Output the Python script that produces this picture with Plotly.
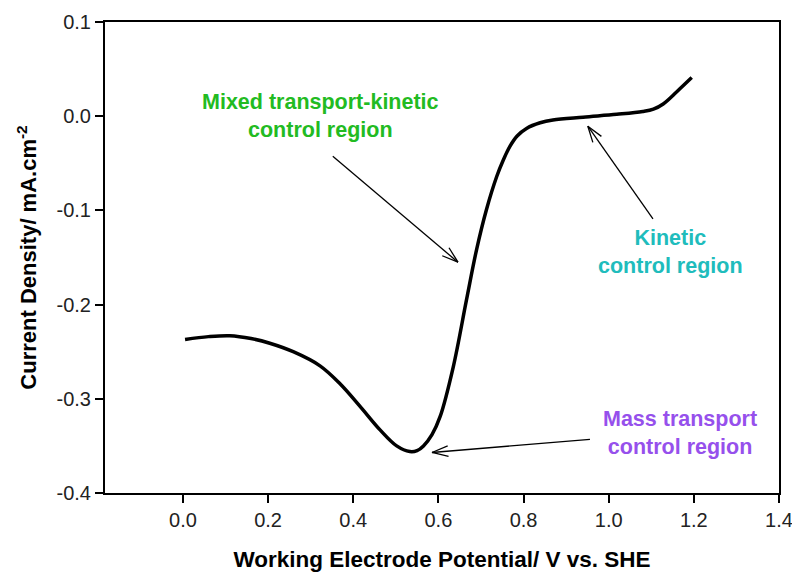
import math
import plotly.graph_objects as go

# ---- data ----
potential = [0.005, 0.06, 0.11, 0.16, 0.204, 0.259, 0.322, 0.369, 0.416, 0.463,
             0.502, 0.533, 0.55, 0.565, 0.585, 0.604, 0.635, 0.666, 0.690, 0.713, 0.737,
             0.752, 0.768, 0.785, 0.807, 0.839, 0.869, 0.94, 1.019, 1.08, 1.105, 1.128,
             1.16, 1.195]
current = [-0.237, -0.234, -0.233, -0.236, -0.241, -0.250, -0.265, -0.284, -0.308, -0.333,
           -0.350, -0.356, -0.355, -0.350, -0.338, -0.319, -0.266, -0.195, -0.141, -0.099, -0.064,
           -0.047, -0.032, -0.021, -0.013, -0.007, -0.004, -0.001, 0.002, 0.005, 0.0075, 0.013,
           0.026, 0.041]

x_ticks = [0.0, 0.2, 0.4, 0.6, 0.8, 1.0, 1.2, 1.4]
x_ticklabels = ["0.0", "0.2", "0.4", "0.6", "0.8", "1.0", "1.2", "1.4"]
y_ticks = [0.1, 0.0, -0.1, -0.2, -0.3, -0.4]
y_ticklabels = ["0.1", "0.0", "-0.1", "-0.2", "-0.3", "-0.4"]

# annotation labels: text, colour, text position, arrow tail, arrow tip
labels = ["Mixed transport-kinetic<br>control region", "Kinetic<br>control region",
          "Mass transport<br>control region"]
label_colors = ["#22bb22", "#20bcbc", "#9650ec"]
label_pos = [(0.322, 0.0), (1.144, -0.144), (1.167, -0.336)]
arrow_tail = [(0.352, -0.0425), (1.104, -0.109), (0.956, -0.343)]
arrow_tip = [(0.646, -0.155), (0.951, -0.0106), (0.585, -0.357)]

# ---- layout geometry ----
W, H = 792, 572
ml, mr, mt, mb = 105, 13, 22, 79
x_range = [-0.183, 1.4]
y_range = [-0.4, 0.1]
pw, ph = W - ml - mr, H - mt - mb
sx = pw / (x_range[1] - x_range[0])
sy = ph / (y_range[1] - y_range[0])

FONT = "Arial, Liberation Sans, sans-serif"

fig = go.Figure()
fig.add_trace(go.Scatter(x=potential, y=current, mode="lines",
                         line=dict(color="black", width=3.5, shape="spline", smoothing=1.0),
                         showlegend=False, hoverinfo="skip"))

shapes = []
for (tx, ty), (hx, hy) in zip(arrow_tail, arrow_tip):
    shapes.append(dict(type="line", xref="x", yref="y", x0=tx, y0=ty, x1=hx, y1=hy,
                       line=dict(color="black", width=1.3)))
    # open V head in pixel space
    dxp = (hx - tx) * sx
    dyp = (hy - ty) * sy
    ang = math.atan2(dyp, dxp)
    L = 17
    for s in (1, -1):
        a = ang + math.pi + s * math.radians(18)
        ex = hx + L * math.cos(a) / sx
        ey = hy + L * math.sin(a) / sy
        shapes.append(dict(type="line", xref="x", yref="y", x0=hx, y0=hy, x1=ex, y1=ey,
                           line=dict(color="black", width=1.3)))

annotations = []
for txt, col, (px, py) in zip(labels, label_colors, label_pos):
    annotations.append(dict(x=px, y=py, xref="x", yref="y", text="<b>" + txt + "</b>",
                            showarrow=False, font=dict(family=FONT, size=21.5, color=col),
                            align="center", xanchor="center", yanchor="middle"))

fig.update_layout(
    width=W, height=H,
    margin=dict(l=ml, r=mr, t=mt, b=mb, autoexpand=False),
    paper_bgcolor="white", plot_bgcolor="white",
    font=dict(family=FONT, color="#222"),
    shapes=shapes, annotations=annotations,
    xaxis=dict(range=x_range, tickvals=x_ticks, ticktext=x_ticklabels, automargin=False,
               ticklabeloverflow="allow",
               showgrid=False, zeroline=False, showline=True, linecolor="black", linewidth=2,
               mirror=True, ticks="outside", ticklen=8, tickwidth=1.5, tickcolor="black",
               tickfont=dict(size=20, family=FONT, color="#222"),
               title=dict(text="<b>Working Electrode Potential/ V vs. SHE</b>",
                          font=dict(size=22.5, family=FONT, color="black"), standoff=21)),
    yaxis=dict(range=y_range, tickvals=y_ticks, ticktext=y_ticklabels, automargin=False,
               ticklabeloverflow="allow",
               showgrid=False, zeroline=False, showline=True, linecolor="black", linewidth=2,
               mirror=True, ticks="outside", ticklen=8, tickwidth=1.5, tickcolor="black",
               tickfont=dict(size=20, family=FONT, color="#222"),
               title=dict(text="<b>Current Density/ mA.cm<sup>-2</sup></b>",
                          font=dict(size=22, family=FONT, color="black"), standoff=14)),
)

fig.write_html("out.html")
